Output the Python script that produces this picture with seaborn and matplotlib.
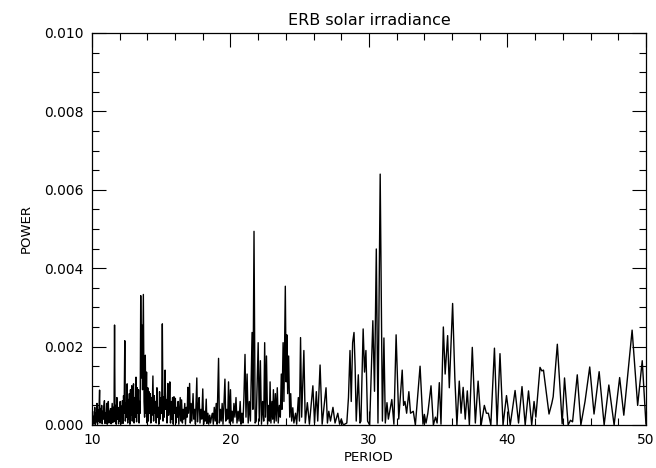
import numpy as np
import pandas as pd
import seaborn as sns
import matplotlib
matplotlib.use("Agg")
import matplotlib.pyplot as plt
from matplotlib.ticker import MultipleLocator

# periodogram, power in units of 1e-3
period_noisy = [10.00, 10.04, 10.08, 10.12, 10.16, 10.20, 10.24, 10.28, 10.32, 10.36,
                10.40, 10.44, 10.48, 10.52, 10.55, 10.58, 10.62, 10.66, 10.70, 10.74,
                10.78, 10.82, 10.86, 10.90, 10.94, 10.98, 11.02, 11.06, 11.10, 11.14,
                11.18, 11.22, 11.26, 11.30, 11.34, 11.38, 11.42, 11.46, 11.50, 11.55,
                11.59, 11.63, 11.67, 11.71, 11.75, 11.80, 11.84, 11.88, 11.92, 11.96,
                12.00, 12.04, 12.08, 12.12, 12.16, 12.20, 12.24, 12.28, 12.32, 12.37,
                12.41, 12.45, 12.49, 12.54, 12.58, 12.62, 12.66, 12.70, 12.74, 12.78,
                12.82, 12.87, 12.91, 12.95, 13.00, 13.04, 13.08, 13.13, 13.18, 13.22,
                13.27, 13.31, 13.36, 13.40, 13.45, 13.48, 13.52, 13.57, 13.61, 13.65,
                13.71, 13.76, 13.80, 13.85, 13.89, 13.94, 13.98, 14.03, 14.07, 14.12,
                14.16, 14.21, 14.25, 14.30, 14.34, 14.40, 14.45, 14.50, 14.55, 14.60,
                14.64, 14.69, 14.73, 14.78, 14.83, 14.88, 14.93, 14.98, 15.03, 15.08,
                15.13, 15.18, 15.22, 15.28, 15.33, 15.38, 15.42, 15.48, 15.53, 15.58,
                15.62, 15.67, 15.72, 15.77, 15.82, 15.87, 15.92, 15.97, 16.02, 16.07,
                16.12, 16.17, 16.22, 16.27, 16.32, 16.37, 16.42, 16.47, 16.53, 16.58,
                16.63, 16.70, 16.75, 16.82, 16.87, 16.92, 16.97, 17.05]
power_noisy = [0.05, 0.35, 0.02, 0.22, 0.05, 0.45, 0.01, 0.30, 0.08, 0.55,
               0.02, 0.38, 0.10, 0.60, 0.89, 0.05, 0.42, 0.12, 0.50, 0.03,
               0.35, 0.15, 0.48, 0.62, 0.04, 0.30, 0.10, 0.55, 0.02, 0.40,
               0.60, 0.05, 0.35, 0.12, 0.42, 0.03, 0.28, 0.55, 0.06, 0.45,
               0.10, 2.55, 0.08, 0.50, 0.02, 0.70, 0.15, 0.45, 0.03, 0.38,
               0.10, 0.60, 0.02, 0.48, 0.20, 0.62, 0.04, 0.75, 0.30, 2.15,
               0.10, 0.55, 0.20, 1.05, 0.05, 0.65, 0.15, 0.80, 0.02, 0.90,
               0.25, 1.00, 0.10, 0.85, 1.05, 0.05, 0.70, 0.20, 1.22, 0.08,
               0.95, 0.30, 0.90, 0.05, 0.60, 0.30, 3.30, 1.20, 2.55, 0.90,
               3.33, 0.60, 0.20, 1.78, 0.30, 1.35, 0.05, 0.95, 0.10, 0.85,
               0.30, 0.80, 0.05, 0.70, 0.25, 1.25, 0.10, 0.75, 0.30, 0.60,
               0.05, 0.95, 0.20, 0.45, 0.02, 0.85, 0.15, 0.70, 0.30, 2.58,
               0.10, 0.72, 0.20, 1.40, 0.40, 0.65, 0.05, 1.06, 0.25, 0.55,
               1.10, 0.05, 0.60, 0.15, 0.70, 0.02, 0.72, 0.30, 0.68, 0.05,
               0.45, 0.20, 0.60, 0.02, 0.38, 0.70, 0.10, 0.64, 0.05, 0.40,
               0.15, 0.55, 0.02, 0.45, 0.20, 0.96, 0.30, 1.06]

period_mid = [17.10, 17.16, 17.21, 17.30, 17.35, 17.42, 17.47, 17.57, 17.62, 17.68,
              17.74, 17.80, 17.87, 17.93, 18.00, 18.06, 18.12, 18.18, 18.25, 18.30,
              18.37, 18.43, 18.50, 18.56, 18.63, 18.70, 18.76, 18.83, 18.90, 18.97,
              19.03, 19.14, 19.20, 19.27, 19.33, 19.40, 19.46, 19.52, 19.60, 19.66,
              19.73, 19.80, 19.86, 19.92, 20.00, 20.06, 20.12, 20.18, 20.25, 20.32,
              20.40, 20.47, 20.55, 20.62, 20.70, 20.76, 20.83, 20.90, 20.97, 21.05,
              21.12, 21.20, 21.28, 21.36, 21.44, 21.56, 21.62, 21.70, 21.78, 21.86,
              22.00, 22.08, 22.16, 22.24, 22.32, 22.40, 22.47, 22.53, 22.60, 22.68,
              22.76, 22.81, 22.86, 22.92, 23.00, 23.05, 23.10, 23.16, 23.24, 23.30,
              23.38, 23.45, 23.53, 23.60, 23.67, 23.72, 23.80, 23.86, 23.96, 24.02,
              24.07, 24.13, 24.20]
power_mid = [0.05, 0.55, 0.10, 0.80, 0.15, 0.40, 0.02, 1.20, 0.08, 0.50,
             0.70, 0.05, 0.40, 0.15, 0.92, 0.02, 0.35, 0.10, 0.66, 0.04,
             0.30, 0.02, 0.25, 0.05, 0.20, 0.30, 0.02, 0.45, 0.10, 0.55,
             0.02, 1.70, 0.05, 0.40, 0.10, 0.55, 0.02, 0.45, 1.17, 0.10,
             0.40, 0.15, 1.10, 0.05, 0.90, 0.10, 0.35, 0.05, 0.55, 0.20,
             0.70, 0.05, 0.35, 0.10, 0.60, 0.02, 0.30, 0.05, 0.70, 1.80,
             0.20, 1.30, 0.05, 0.60, 0.10, 2.36, 0.40, 4.94, 0.05, 0.10,
             2.10, 0.10, 1.64, 0.02, 0.60, 0.10, 2.10, 0.20, 1.76, 0.02,
             0.50, 0.10, 1.10, 0.05, 0.60, 0.15, 0.90, 0.05, 0.80, 0.10,
             0.95, 0.05, 0.50, 0.20, 1.30, 0.40, 2.10, 0.60, 3.54, 1.10,
             2.30, 0.80, 1.76]

period_rise = [24.28, 24.35, 24.42, 24.50, 24.58, 24.70, 24.78, 24.90, 24.98, 25.06,
               25.14, 25.30, 25.40, 25.55, 25.70, 25.95, 26.07, 26.20, 26.30, 26.47,
               26.62, 26.90, 27.00, 27.10, 27.22, 27.40, 27.55, 27.75, 27.88, 28.00,
               28.15, 28.40, 28.52, 28.63, 28.72, 28.82, 28.92, 29.00, 29.08, 29.23,
               29.35, 29.42, 29.58, 29.68, 29.78, 29.90, 30.05, 30.28, 30.40, 30.53,
               30.65, 30.81, 30.97, 31.08]
power_rise = [0.20, 0.80, 0.10, 0.44, 0.05, 0.30, 0.02, 0.70, 0.10, 2.23,
              0.20, 1.90, 0.05, 0.57, 0.02, 1.00, 0.05, 0.85, 0.10, 1.53,
              0.02, 0.95, 0.05, 0.35, 0.10, 0.45, 0.05, 0.30, 0.02, 0.15,
              0.00, 0.05, 0.70, 1.90, 0.60, 2.10, 2.36, 1.50, 0.10, 1.28,
              0.05, 0.10, 2.45, 1.35, 1.90, 0.10, 0.00, 2.66, 0.86, 4.49,
              0.05, 6.40, 0.10, 2.22]

period_tail = [31.18, 31.30, 31.40, 31.65, 31.80, 31.96, 32.15, 32.40, 32.50, 32.60,
               32.72, 32.88, 33.00, 33.20, 33.35, 33.69, 33.90, 34.00, 34.12, 34.25,
               34.48, 34.65, 34.80, 34.92, 35.08, 35.20, 35.37, 35.50, 35.68, 35.80,
               36.04, 36.20, 36.35, 36.52, 36.65, 36.80, 36.95, 37.10, 37.25, 37.46,
               37.68, 37.88, 38.10, 38.33, 38.48, 38.62, 38.80, 39.06, 39.25, 39.46,
               39.68, 39.93, 40.20, 40.55, 40.80, 41.05, 41.28, 41.52, 41.75, 41.92,
               42.05, 42.35, 42.48, 42.60, 43.00, 43.20, 43.30, 43.60, 43.95, 44.12,
               44.38, 44.55, 44.70, 45.04, 45.30, 45.60, 45.94, 46.25, 46.62, 46.98,
               47.32, 47.70, 48.10, 48.40, 49.00, 49.40, 49.73, 50.00]
power_tail = [0.05, 0.57, 0.15, 0.65, 0.02, 2.30, 0.15, 1.40, 0.50, 0.60,
              0.30, 0.85, 0.30, 0.35, 0.00, 1.50, 0.02, 0.27, 0.05, 0.30,
              1.00, 0.00, 0.20, 0.05, 1.08, 0.02, 2.50, 1.30, 2.28, 0.95,
              3.10, 1.20, 0.00, 1.12, 0.30, 0.96, 0.15, 0.87, 0.00, 1.98,
              0.05, 1.12, 0.00, 0.50, 0.30, 0.30, 0.00, 1.96, 0.00, 1.82,
              0.00, 0.75, 0.00, 0.88, 0.05, 0.98, 0.00, 0.87, 0.00, 0.60,
              0.20, 1.47, 1.38, 1.40, 0.28, 0.55, 0.72, 2.06, 0.03, 1.20,
              0.00, 0.12, 0.08, 1.28, 0.00, 0.60, 1.48, 0.28, 1.36, 0.00,
              1.02, 0.00, 1.21, 0.25, 2.42, 0.50, 1.64, 0.02]

df = pd.DataFrame({
    "period": period_noisy + period_mid + period_rise + period_tail,
    "power": np.array(power_noisy + power_mid + power_rise + power_tail) * 1e-3,
})

sns.set_style("ticks")
plt.rcParams["font.family"] = ["DejaVu Sans"]
plt.rcParams["text.color"] = "black"
plt.rcParams["axes.labelcolor"] = "black"

fig = plt.figure(figsize=(6.56, 4.68), dpi=100)
# axes box: x 92..646 px, y 33..425 px
ax = fig.add_axes([0.1402, 0.0919, 0.8445, 0.8376])

sns.lineplot(data=df, x="period", y="power", estimator=None, sort=False,
             color="black", lw=1.0, ax=ax)

ax.set_xlim(10, 50)
ax.set_ylim(0, 0.010)
ax.xaxis.set_major_locator(MultipleLocator(10))
ax.xaxis.set_minor_locator(MultipleLocator(2))
ax.yaxis.set_major_locator(MultipleLocator(0.002))
ax.yaxis.set_minor_locator(MultipleLocator(0.0005))
ax.yaxis.set_major_formatter(plt.FuncFormatter(lambda v, p: "%.3f" % v))
ax.tick_params(which="both", direction="in", top=True, right=True, width=0.8,
               labelsize=10, colors="black")
ax.tick_params(which="major", length=10, pad=6)
ax.tick_params(which="minor", length=5)
for s in ax.spines.values():
    s.set_linewidth(0.9)
    s.set_color("black")

ax.set_xlabel("PERIOD", fontsize=9.5, labelpad=3)
ax.set_ylabel("POWER", fontsize=9.5, labelpad=8)
ax.set_title("ERB solar irradiance", fontsize=11.5, pad=6, color="black")

fig.savefig("out.png", dpi=100, facecolor="white")
